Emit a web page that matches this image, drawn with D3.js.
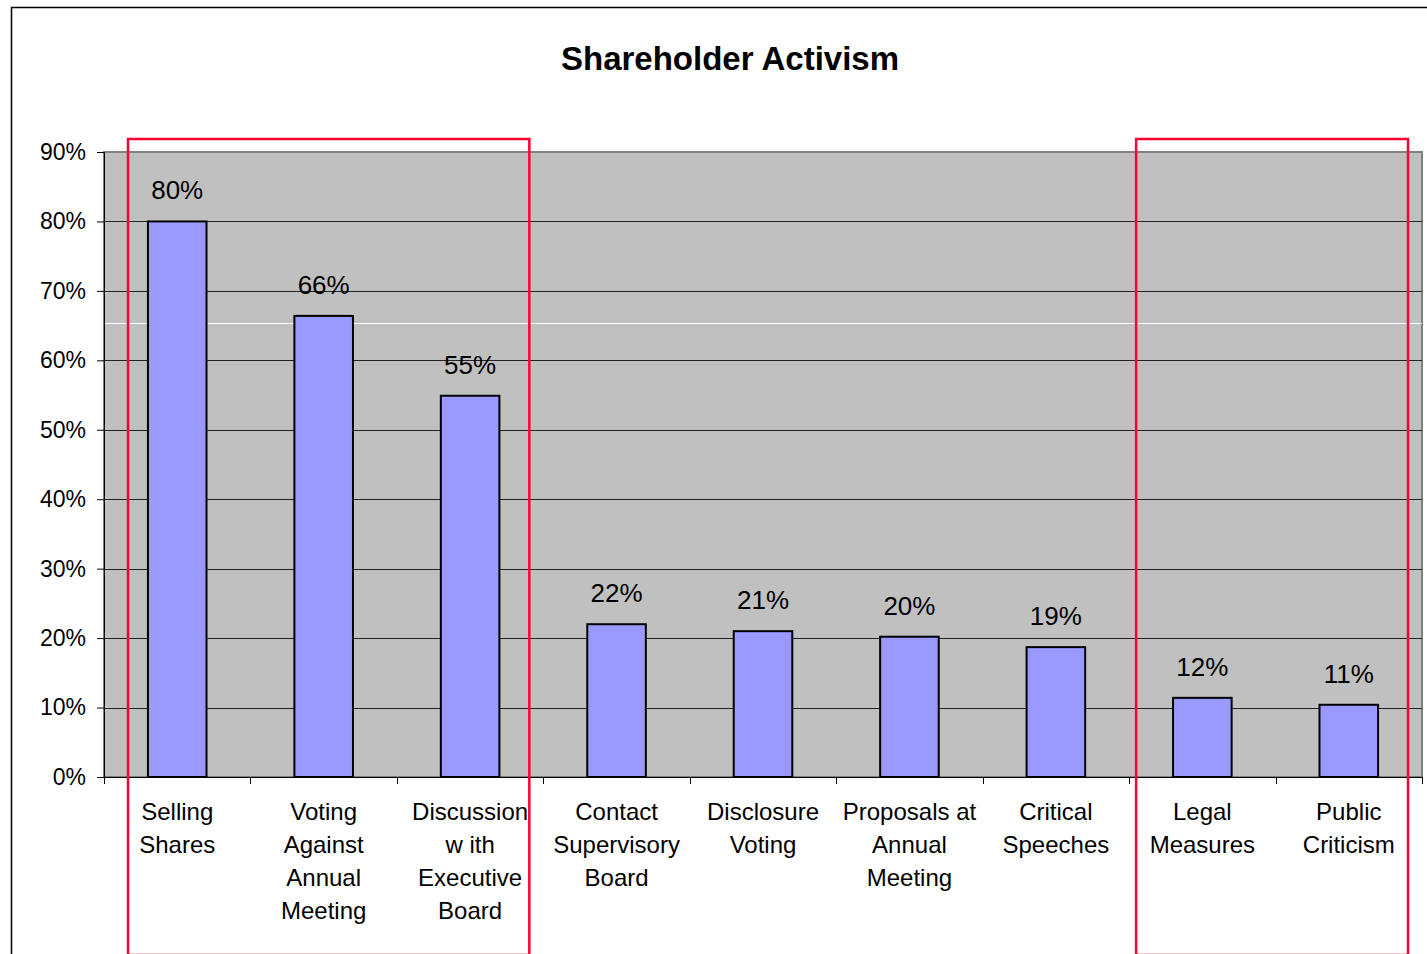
<!DOCTYPE html>
<html>
<head>
<meta charset="utf-8">
<script src="https://cdn.jsdelivr.net/npm/d3@7"></script>
<style>
  body { margin: 0; background: #fff; }
  svg { display: block; font-family: "Liberation Sans", Arial, sans-serif; }
</style>
</head>
<body>
<div id="chart"></div>
<script>
// data
var categories = [
  ["Selling", "Shares"],
  ["Voting", "Against", "Annual", "Meeting"],
  ["Discussion", "w ith", "Executive", "Board"],
  ["Contact", "Supervisory", "Board"],
  ["Disclosure", "Voting"],
  ["Proposals at", "Annual", "Meeting"],
  ["Critical", "Speeches"],
  ["Legal", "Measures"],
  ["Public", "Criticism"]
];
var values = [80, 66.4, 54.9, 22, 21, 20.2, 18.7, 11.4, 10.4];
var valueLabels = ["80%", "66%", "55%", "22%", "21%", "20%", "19%", "12%", "11%"];
var yTicks = [0, 10, 20, 30, 40, 50, 60, 70, 80, 90];
var whiteLineValue = 65.4;
// highlighted groups (index of first and last category)
var highlights = [[0, 2], [7, 8]];

var W = 1427, H = 954;
var plot = { left: 104, right: 1422, top: 152, bottom: 777 };
var boxInset = [[24, 14], [7, 14]];

var svg = d3.select("#chart").append("svg")
  .attr("width", W)
  .attr("height", H);

// outer chart frame
svg.append("rect")
  .attr("x", 11.5).attr("y", 7.5)
  .attr("width", 1460).attr("height", 1000)
  .attr("fill", "#fff")
  .attr("stroke", "#000")
  .attr("stroke-width", 1.5);

svg.append("text")
  .attr("x", 730).attr("y", 70)
  .attr("text-anchor", "middle")
  .style("font-size", "33px")
  .style("font-weight", "bold")
  .text("Shareholder Activism");

var idx = categories.map(function(d, i) { return i; });

var x = d3.scaleBand()
  .domain(idx)
  .range([plot.left, plot.right])
  .padding(0);

var y = d3.scaleLinear()
  .domain([0, 90])
  .range([plot.bottom, plot.top]);

// plot background
svg.append("rect")
  .attr("x", plot.left).attr("y", plot.top)
  .attr("width", plot.right - plot.left)
  .attr("height", plot.bottom - plot.top)
  .attr("fill", "#c0c0c0")
  .attr("stroke", "#808080")
  .attr("stroke-width", 2);

// gridlines
svg.append("g")
  .selectAll("line")
  .data(yTicks.filter(function(d) { return d > 0 && d < 90; }))
  .enter()
  .append("line")
    .attr("x1", plot.left).attr("x2", plot.right)
    .attr("y1", function(d) { return Math.round(y(d)) + 0.5; })
    .attr("y2", function(d) { return Math.round(y(d)) + 0.5; })
    .attr("stroke", "#222")
    .attr("stroke-width", 1);

svg.append("line")
  .attr("x1", plot.left).attr("x2", plot.right)
  .attr("y1", Math.round(y(whiteLineValue)) + 0.5)
  .attr("y2", Math.round(y(whiteLineValue)) + 0.5)
  .attr("stroke", "#fff")
  .attr("stroke-width", 1);

// y axis
var yAxis = svg.append("g")
  .attr("transform", "translate(" + plot.left + ",0)")
  .call(d3.axisLeft(y).tickValues(yTicks).tickSize(7).tickPadding(11)
    .tickFormat(function(d) { return d + "%"; }));
yAxis.select(".domain").attr("stroke", "#000");
yAxis.selectAll(".tick line").attr("stroke", "#000");
yAxis.selectAll("text")
  .style("font-size", "23px")
  .style("font-family", "'Liberation Sans', Arial, sans-serif")
  .attr("fill", "#000");

// x axis
var xAxis = svg.append("g")
  .attr("transform", "translate(0," + plot.bottom + ")");
xAxis.append("line")
  .attr("x1", plot.left).attr("x2", plot.right)
  .attr("y1", 0.5).attr("y2", 0.5)
  .attr("stroke", "#000");
xAxis.selectAll(".xtick")
  .data(idx.concat([categories.length]))
  .enter()
  .append("line")
    .attr("x1", function(d) { return Math.round(d < categories.length ? x(d) : plot.right) + 0.5; })
    .attr("x2", function(d) { return Math.round(d < categories.length ? x(d) : plot.right) + 0.5; })
    .attr("y1", 0).attr("y2", 7)
    .attr("stroke", "#000");

// category labels
var labels = svg.append("g")
  .selectAll("text")
  .data(categories)
  .enter()
  .append("text")
    .attr("text-anchor", "middle")
    .style("font-size", "24px")
    .attr("transform", function(d, i) {
      return "translate(" + (x(i) + x.bandwidth() / 2) + ",820)";
    });
labels.selectAll("tspan")
  .data(function(d) { return d; })
  .enter()
  .append("tspan")
    .attr("x", 0)
    .attr("y", function(d, j) { return j * 33; })
    .text(function(d) { return d; });

// bars
var barW = x.bandwidth() * 0.4;
svg.append("g")
  .selectAll("rect")
  .data(values)
  .enter()
  .append("rect")
    .attr("x", function(d, i) { return x(i) + (x.bandwidth() - barW) / 2; })
    .attr("y", function(d) { return y(d); })
    .attr("width", barW)
    .attr("height", function(d) { return y(0) - y(d); })
    .attr("fill", "#9999ff")
    .attr("stroke", "#000")
    .attr("stroke-width", 2);

// value labels
svg.append("g")
  .selectAll("text")
  .data(values)
  .enter()
  .append("text")
    .attr("x", function(d, i) { return x(i) + x.bandwidth() / 2; })
    .attr("y", function(d) { return y(d) - 22; })
    .attr("text-anchor", "middle")
    .style("font-size", "26px")
    .text(function(d, i) { return valueLabels[i]; });

// red highlight boxes
svg.append("g")
  .selectAll("rect")
  .data(highlights)
  .enter()
  .append("rect")
    .attr("x", function(d, i) { return x(d[0]) + boxInset[i][0]; })
    .attr("y", 139)
    .attr("width", function(d, i) {
      return x(d[1]) + x.bandwidth() - x(d[0]) - boxInset[i][0] - boxInset[i][1];
    })
    .attr("height", 816)
    .attr("fill", "none")
    .attr("stroke", "#ff0033")
    .attr("stroke-width", 2.5);
</script>
</body>
</html>
